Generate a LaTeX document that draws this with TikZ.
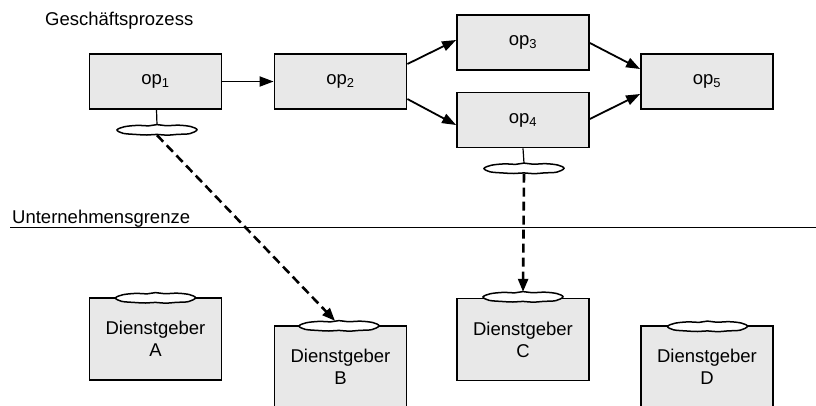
\documentclass[tikz,border=0pt]{standalone}
\usepackage{fontspec}
\setmainfont{Liberation Sans}
\usetikzlibrary{arrows.meta,shapes.geometric,calc}

\tikzset{
  opbox/.style={draw, line width=1.8bp, fill=black!9, minimum width=132bp,
    minimum height=55bp, inner sep=0pt},
  provider/.style={draw, line width=1.8bp, fill=black!9, minimum width=132bp,
    minimum height=82bp, inner sep=0pt, align=center},
  iface/.style={ellipse, minimum width=80bp, minimum height=10bp, inner sep=0pt},
  ifaceline/.style={draw, line width=1.5bp, fill=white},
  flow/.style={line width=1.8bp, -{Triangle[length=14bp,width=10bp]}},
  binding/.style={line width=2.6bp, dash pattern=on 9bp off 5bp,
    -{Triangle[length=13bp,width=10bp]}},
  stalk/.style={line width=1.2bp},
  lbl/.style={anchor=base west, inner sep=0pt}
}

% slightly irregular interface outline around a named node
\newcommand{\ifacecurve}[1]{%
  \path[ifaceline, shift={(#1.center)}] plot[smooth cycle, tension=0.55] coordinates {
    (-40,0) (-33,-3.2) (-20,-4.6) (-8,-4.2) (0,-5.4) (9,-4.3) (22,-4.8)
    (34,-3.4) (40,-0.2) (33,3.6) (20,4.4) (10,5.2) (0,4.4) (-10,5.0)
    (-22,4.4) (-34,3.3)};}

\begin{document}
\begin{tikzpicture}[x=1bp, y=-1bp, font=\fontsize{18.5bp}{22bp}\selectfont]
  \useasboundingbox (0,0) rectangle (816,405);
  \clip (0,0) rectangle (816,405);

  % business process
  \node[lbl] (gp) at (45,25) {Geschäftsprozess};
  \node[opbox] (op1) at (155.5,81.5) {op\textsubscript{1}};
  \node[opbox] (op2) at (340.5,81.5) {op\textsubscript{2}};
  \node[opbox] (op3) at (523,42.5)   {op\textsubscript{3}};
  \node[opbox] (op4) at (523,120)    {op\textsubscript{4}};
  \node[opbox] (op5) at (707,81.5)   {op\textsubscript{5}};

  \draw[flow] (op1.east) -- (op2.west);
  \draw[flow] ($(op2.east)+(0,-17.5)$) -- ($(op3.west)+(0,-2.5)$);
  \draw[flow] ($(op2.east)+(0,17.5)$)  -- ($(op4.west)+(0,5)$);
  \draw[flow] ($(op3.east)+(0,0.5)$)   -- ($(op5.west)+(0,-12.5)$);
  \draw[flow] ($(op4.east)+(0,-1)$)    -- ($(op5.west)+(0,12.5)$);

  % interfaces required by the operations
  \coordinate (s1) at ($(op1.south)+(1,0)$);
  \node[iface] (e1) at (157,130) {};
  \draw[stalk] (s1) -- (e1.north);
  \ifacecurve{e1}
  \node[iface] (e4) at (524,168.5) {};
  \draw[stalk] (op4.south) -- (e4.north);
  \ifacecurve{e4}

  % enterprise boundary
  \node[lbl] (ug) at (12,223) {Unternehmensgrenze};
  \coordinate (bl) at (10,227.5);
  \coordinate (br) at (816,227.5);
  \draw[line width=1.4bp] (bl) -- (br);

  % service providers
  \node[provider] (pA) at (155.5,339)  {Dienstgeber\\A};
  \node[provider] (pB) at (340.5,367)  {Dienstgeber\\B};
  \node[provider] (pC) at (523,339.5)  {Dienstgeber\\C};
  \node[provider] (pD) at (707,367)    {Dienstgeber\\D};

  \node[iface] (eA) at (155.5,298) {};
  \node[iface] (eB) at (339,326)   {};
  \node[iface] (eC) at (523,297)   {};
  \node[iface] (eD) at (707.5,326.5) {};
  \ifacecurve{eA}
  \ifacecurve{eB}
  \ifacecurve{eC}
  \ifacecurve{eD}

  % bindings
  \draw[binding] (e1.south) -- ($(eB.north)+(-4,0)$);
  \draw[binding] (e4.south) -- (eC.north);
\end{tikzpicture}
\end{document}
